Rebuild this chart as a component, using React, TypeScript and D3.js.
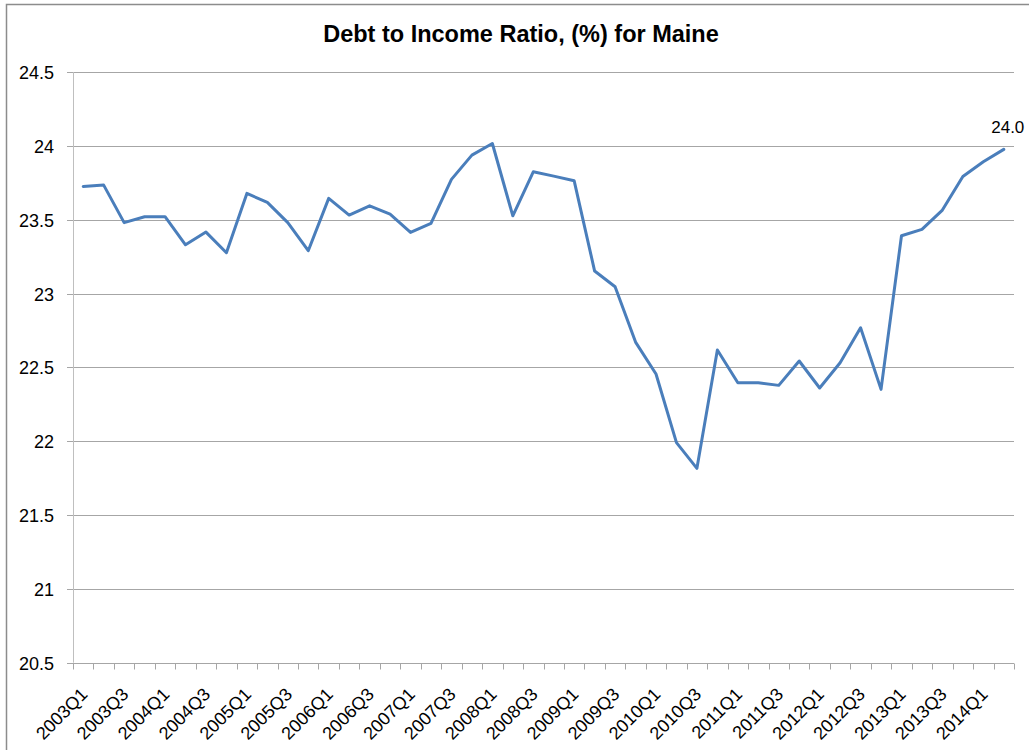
import React from "react";
import * as d3 from "d3";

const categories = [
  "2003Q1","2003Q2","2003Q3","2003Q4",
  "2004Q1","2004Q2","2004Q3","2004Q4",
  "2005Q1","2005Q2","2005Q3","2005Q4",
  "2006Q1","2006Q2","2006Q3","2006Q4",
  "2007Q1","2007Q2","2007Q3","2007Q4",
  "2008Q1","2008Q2","2008Q3","2008Q4",
  "2009Q1","2009Q2","2009Q3","2009Q4",
  "2010Q1","2010Q2","2010Q3","2010Q4",
  "2011Q1","2011Q2","2011Q3","2011Q4",
  "2012Q1","2012Q2","2012Q3","2012Q4",
  "2013Q1","2013Q2","2013Q3","2013Q4",
  "2014Q1","2014Q2",
];

const ratio = [
  23.725, 23.734, 23.48, 23.52,
  23.52, 23.33, 23.416, 23.276,
  23.678, 23.617, 23.48, 23.29,
  23.644, 23.531, 23.594, 23.538,
  23.414, 23.475, 23.773, 23.937,
  24.016, 23.526, 23.824, 23.795,
  23.763, 23.152, 23.046, 22.671,
  22.455, 21.99, 21.816, 22.617,
  22.396, 22.396, 22.378, 22.543,
  22.36, 22.531, 22.768, 22.351,
  23.391, 23.434, 23.565, 23.793,
  23.892, 23.976,
];

const yTicks = [20.5, 21, 21.5, 22, 22.5, 23, 23.5, 24, 24.5];
const title = "Debt to Income Ratio, (%) for Maine";

const W = 1029;
const H = 750;
const plot = { left: 73, right: 1014, top: 72, bottom: 662.7 };
const FONT = "'Liberation Sans', Arial, sans-serif";

export default function App() {
  const x = d3
    .scaleBand<string>()
    .domain(categories)
    .range([plot.left, plot.right])
    .paddingInner(0)
    .paddingOuter(0);
  const bw = x.bandwidth();
  const cx = (c: string) => (x(c) as number) + bw / 2;
  const y = d3.scaleLinear().domain([20.5, 24.5]).range([plot.bottom, plot.top]);

  const line = d3
    .line<number>()
    .x((_, i) => cx(categories[i]))
    .y((d) => y(d));

  const boundaries = d3.range(categories.length + 1).map((i) => plot.left + i * bw);
  const last = ratio.length - 1;

  return (
    <svg
      width={W}
      height={H}
      style={{ position: "absolute", left: 0, top: 0, background: "#fff" }}
      fontFamily={FONT}
    >
      <rect x={0} y={0} width={W} height={H} fill="#fff" />
      <rect x={6.5} y={4.5} width={W + 20} height={H + 20} fill="none" stroke="#8c8c8c" strokeWidth={1.5} />

      <text
        x={521}
        y={42}
        textAnchor="middle"
        fontSize={23.5}
        fontWeight="bold"
        fill="#000"
      >
        {title}
      </text>

      {/* gridlines and y labels */}
      {yTicks.map((t) => {
        const yy = Math.round(y(t)) + 0.5;
        return (
          <g key={t}>
            <line x1={plot.left - 6} x2={plot.right} y1={yy} y2={yy} stroke="#a6a6a6" strokeWidth={1} />
            <text
              x={54}
              y={yy}
              textAnchor="end"
              dy="0.35em"
              fontSize={18}
              fill="#000"
            >
              {d3.format("")(t)}
            </text>
          </g>
        );
      })}

      {/* y axis */}
      <line x1={plot.left + 0.5} x2={plot.left + 0.5} y1={plot.top} y2={plot.bottom} stroke="#bfbfbf" strokeWidth={1} />

      {/* x axis ticks */}
      {boundaries.map((bx, i) => (
        <line
          key={i}
          x1={Math.round(bx) + 0.5}
          x2={Math.round(bx) + 0.5}
          y1={Math.round(plot.bottom) + 0.5}
          y2={Math.round(plot.bottom) + 6.5}
          stroke="#a6a6a6"
          strokeWidth={1}
        />
      ))}

      {/* x labels */}
      {categories.map((c, i) =>
        i % 2 === 0 ? (
          <text
            key={c}
            transform={`translate(${cx(c) + 1},${691}) rotate(-45)`}
            textAnchor="end"
            dy="0.35em"
            fontSize={18}
            fill="#000"
          >
            {c}
          </text>
        ) : null
      )}

      {/* series */}
      <path
        d={line(ratio) as string}
        fill="none"
        stroke="#4a7ebb"
        strokeWidth={3}
        strokeLinejoin="round"
        strokeLinecap="round"
      />

      {/* data label */}
      <text
        x={cx(categories[last]) + 4}
        y={y(ratio[last]) - 16}
        textAnchor="middle"
        fontSize={17}
        fill="#000"
      >
        {d3.format(".1f")(ratio[last])}
      </text>
    </svg>
  );
}
